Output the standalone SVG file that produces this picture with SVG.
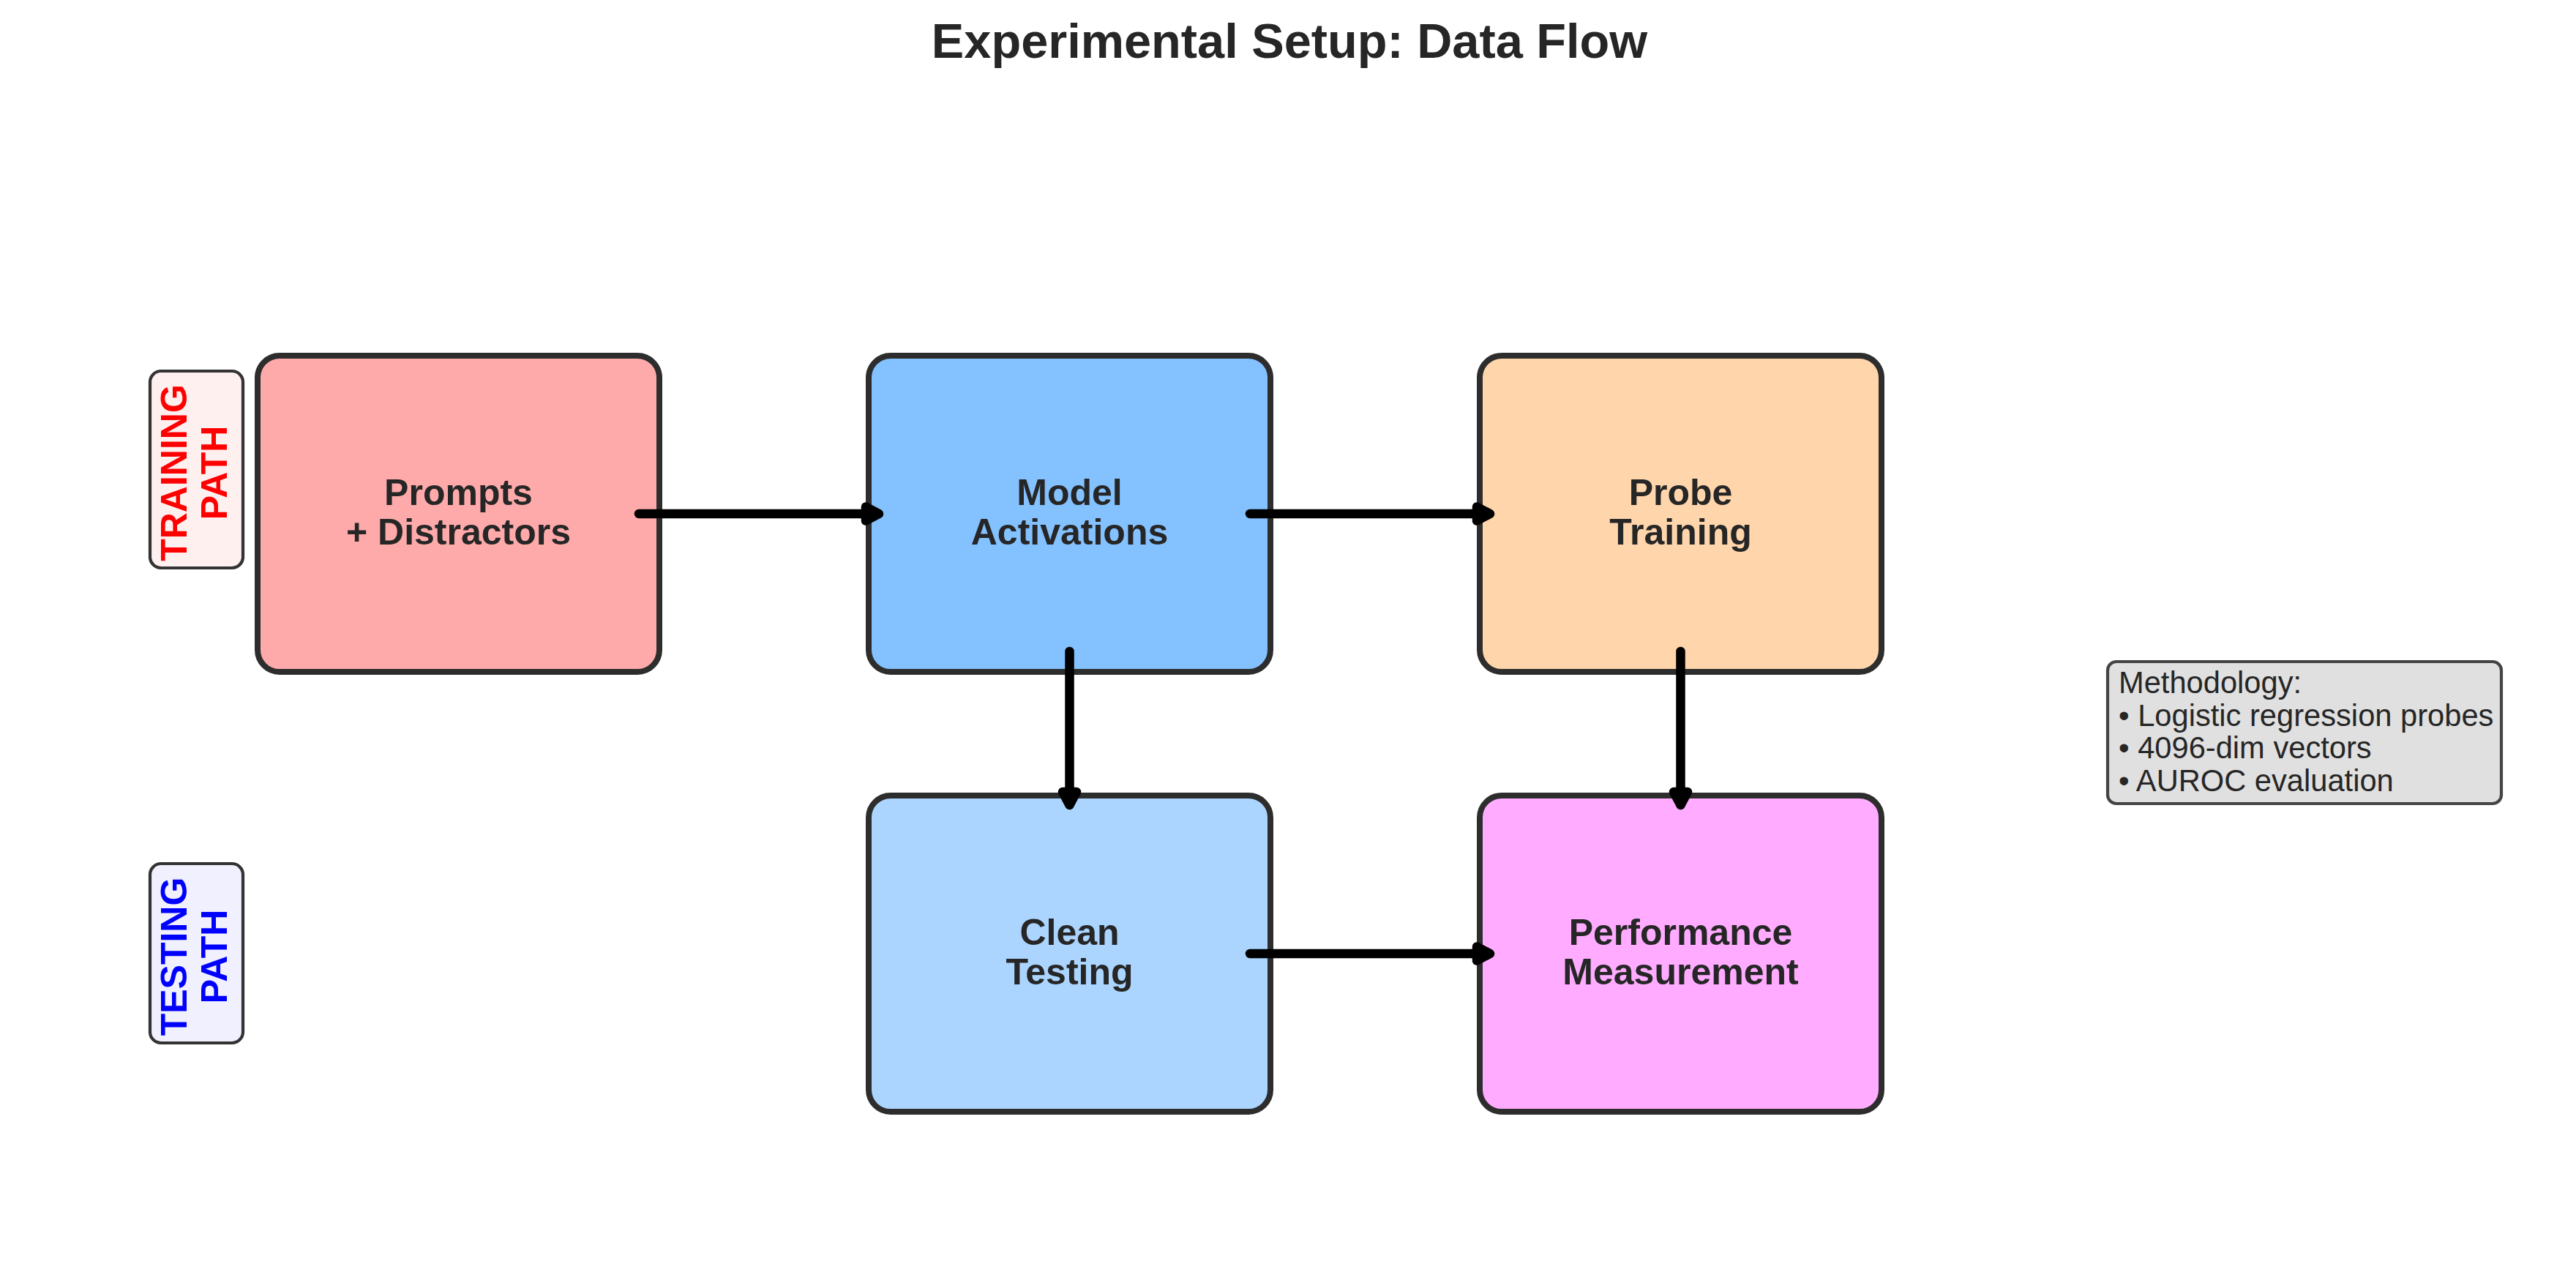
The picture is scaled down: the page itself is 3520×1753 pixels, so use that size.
<svg xmlns="http://www.w3.org/2000/svg" width="3520" height="1753" viewBox="0 0 3520 1753">
<defs>
<style>
.node{stroke:#2d2d2d;stroke-width:8}
.nt{font-family:"Liberation Sans",Arial,sans-serif;font-weight:bold;font-size:50px;fill:#262626;text-anchor:middle}
.lab{stroke:#333333;stroke-width:4.2}
.lt{font-family:"Liberation Sans",Arial,sans-serif;font-weight:bold;font-size:50px;text-anchor:middle}
.conn{stroke:#000;stroke-width:12.5;stroke-linecap:round;fill:none;marker-end:url(#ah)}
.mt{font-family:"Liberation Sans",Arial,sans-serif;font-size:41.67px;fill:#262626}
</style>
<marker id="ah" markerUnits="userSpaceOnUse" markerWidth="60" markerHeight="60" viewBox="-30 -30 60 60" refX="0" refY="0" orient="auto" overflow="visible">
<path d="M0,-9.5 L18,0 L0,9.5 Z" fill="#000" stroke="#000" stroke-width="12.5" stroke-linejoin="round"/>
</marker>
</defs>
<rect width="3520" height="1753" fill="#ffffff"/>
<text x="1762" y="79" font-family="Liberation Sans,Arial,sans-serif" font-weight="bold" font-size="66.7" fill="#262626" text-anchor="middle">Experimental Setup: Data Flow</text>

<g id="prompts">
<rect class="node" x="352" y="486" width="549" height="432" rx="30" fill="#ffaaaa"/>
<text class="nt" x="626.5" y="690">Prompts</text>
<text class="nt" x="626.5" y="744">+ Distractors</text>
</g>
<g id="activations">
<rect class="node" x="1187" y="486" width="549" height="432" rx="30" fill="#84c1ff"/>
<text class="nt" x="1461.5" y="690">Model</text>
<text class="nt" x="1461.5" y="744">Activations</text>
</g>
<g id="probe">
<rect class="node" x="2022" y="486" width="549" height="432" rx="30" fill="#ffd5ab"/>
<text class="nt" x="2296.5" y="690">Probe</text>
<text class="nt" x="2296.5" y="744">Training</text>
</g>
<g id="testing">
<rect class="node" x="1187" y="1087" width="549" height="432" rx="30" fill="#abd5ff"/>
<text class="nt" x="1461.5" y="1291">Clean</text>
<text class="nt" x="1461.5" y="1345">Testing</text>
</g>
<g id="performance">
<rect class="node" x="2022" y="1087" width="549" height="432" rx="30" fill="#ffabff"/>
<text class="nt" x="2296.5" y="1291">Performance</text>
<text class="nt" x="2296.5" y="1345">Measurement</text>
</g>

<g id="connectors">
<line class="conn" x1="873" y1="702" x2="1183" y2="702"/>
<line class="conn" x1="1708" y1="702" x2="2018" y2="702"/>
<line class="conn" x1="1461.5" y1="890" x2="1461.5" y2="1082"/>
<line class="conn" x1="2296.5" y1="890" x2="2296.5" y2="1082"/>
<line class="conn" x1="1708" y1="1303" x2="2018" y2="1303"/>
</g>

<g id="training-path">
<rect class="lab" x="205" y="507" width="127" height="269" rx="15" fill="#fff0f0"/>
<text class="lt" fill="#ff0000" transform="translate(255,646) rotate(-90)">TRAINING</text>
<text class="lt" fill="#ff0000" transform="translate(310,646) rotate(-90)">PATH</text>
</g>
<g id="testing-path">
<rect class="lab" x="205" y="1180" width="127" height="245" rx="15" fill="#f0f0ff"/>
<text class="lt" fill="#0000ff" transform="translate(255,1307) rotate(-90)">TESTING</text>
<text class="lt" fill="#0000ff" transform="translate(310,1307) rotate(-90)">PATH</text>
</g>

<g id="methodology">
<rect x="2880" y="904" width="538" height="194" rx="12" fill="#e0e0e0" stroke="#444444" stroke-width="4.2"/>
<text class="mt" x="2895" y="947">Methodology:</text>
<text class="mt" x="2895" y="991.5">• Logistic regression probes</text>
<text class="mt" x="2895" y="1036">• 4096-dim vectors</text>
<text class="mt" x="2895" y="1080.5">• AUROC evaluation</text>
</g>
</svg>
